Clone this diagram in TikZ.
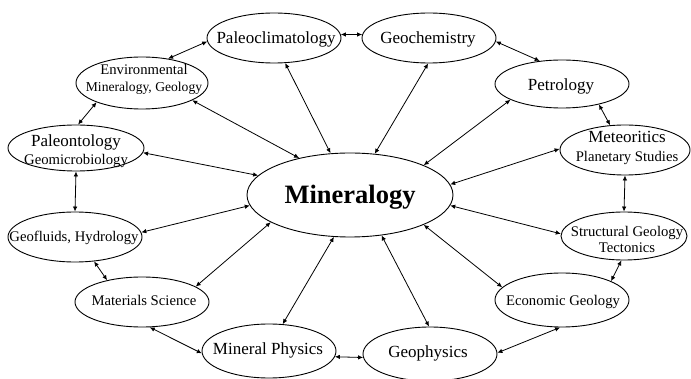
\documentclass[tikz,border=0pt]{standalone}
\usepackage{fontspec}
\setmainfont{Liberation Serif}
\usetikzlibrary{shapes.geometric,arrows.meta}
\begin{document}
\begin{tikzpicture}[x=1pt,y=-1pt,
  ell/.style={draw,ellipse,line width=0.9pt,inner sep=0pt,minimum width=134pt,minimum height=50pt},
  txt/.style={inner sep=0pt,anchor=base},
  big/.style={txt,font=\fontsize{17}{19}\selectfont},
  small/.style={txt,font=\fontsize{14.7}{17}\selectfont},
  link/.style={line width=0.8pt,{Latex[length=5pt,width=4.5pt]}-{Latex[length=5pt,width=4.5pt]}}]
\useasboundingbox (0,0) rectangle (691,379);

% ellipses
\node[ell,minimum width=206pt,minimum height=84pt] (min) at (350,195) {};
\node[ell] (pc)  at (274,38) {};
\node[ell] (gc)  at (429,38) {};
\node[ell,minimum width=132pt,minimum height=52pt] (env) at (142,83) {};
\node[ell,minimum height=48pt] (pet) at (562,84) {};
\node[ell,minimum width=136pt,minimum height=46pt] (pal) at (76,148) {};
\node[ell,minimum width=130pt] (met) at (625,150) {};
\node[ell] (gf)  at (75,237) {};
\node[ell,minimum width=126pt,minimum height=48pt] (str) at (624,236) {};
\node[ell] (mat) at (142,302) {};
\node[ell,minimum height=54pt] (eco) at (562,300) {};
\node[ell,minimum height=54pt] (mp)  at (269,351) {};
\node[ell,minimum height=54pt] (gp)  at (430,354) {};

% labels
\node[txt,font=\fontsize{26.5}{30}\selectfont\bfseries] (mint) at (350,204) {Mineralogy};
\node[big] (pct) at (276,44) {Paleoclimatology};
\node[big] (gct) at (428,44) {Geochemistry};
\node[small] (envt1) at (144,75) {Environmental};
\node[txt,font=\fontsize{13.6}{16}\selectfont] (envt2) at (144,92) {Mineralogy, Geology};
\node[big] (pett) at (561,91) {Petrology};
\node[big] (palt1) at (76,147) {Paleontology};
\node[small] (palt2) at (76,165) {Geomicrobiology};
\node[big] (mett1) at (627,143) {Meteoritics};
\node[small] (mett2) at (627,162) {Planetary Studies};
\node[small] (gft) at (74,242) {Geofluids, Hydrology};
\node[small] (strt1) at (627,237) {Structural Geology};
\node[small] (strt2) at (627,253) {Tectonics};
\node[small] (matt) at (144,306) {Materials Science};
\node[small] (ecot) at (563,306) {Economic Geology};
\node[big] (mpt) at (268,355) {Mineral Physics};
\node[big] (gpt) at (428,358) {Geophysics};

% connectors
\draw[link] (pc.3) -- (gc.177);
\draw[link] (env.43) -- (pc.183);
\draw[link] (env.203) -- (pal.85);
\draw[link] (env.341) -- (min.144);
\draw[link] (pc.294) -- (min.115);
\draw[link] (pal.356) -- (min.168);
\draw[link] (pal.270) -- (gf.90);
\draw[link] (gf.4) -- (min.186);
\draw[link] (gf.308) -- (mat.148);
\draw[link] (mat.16) -- (min.199);
\draw[link] (mp.63) -- (min.249);
\draw[link] (mat.287) -- (mp.182);
\draw[link] (mp.355) -- (gp.183);
\draw[link] (gp.92) -- (min.308);
\draw[link] (gp.1) -- (eco.266);
\draw[link] (eco.168) -- (min.338);
\draw[link] (eco.21) -- (str.264);
\draw[link] (str.178) -- (min.354);
\draw[link] (met.270) -- (str.90);
\draw[link] (met.179) -- (min.6);
\draw[link] (pet.197) -- (min.22);
\draw[link] (pet.331) -- (met.121);
\draw[link] (gc.357) -- (pet.134);
\draw[link] (gc.268) -- (min.59);
\end{tikzpicture}
\end{document}
